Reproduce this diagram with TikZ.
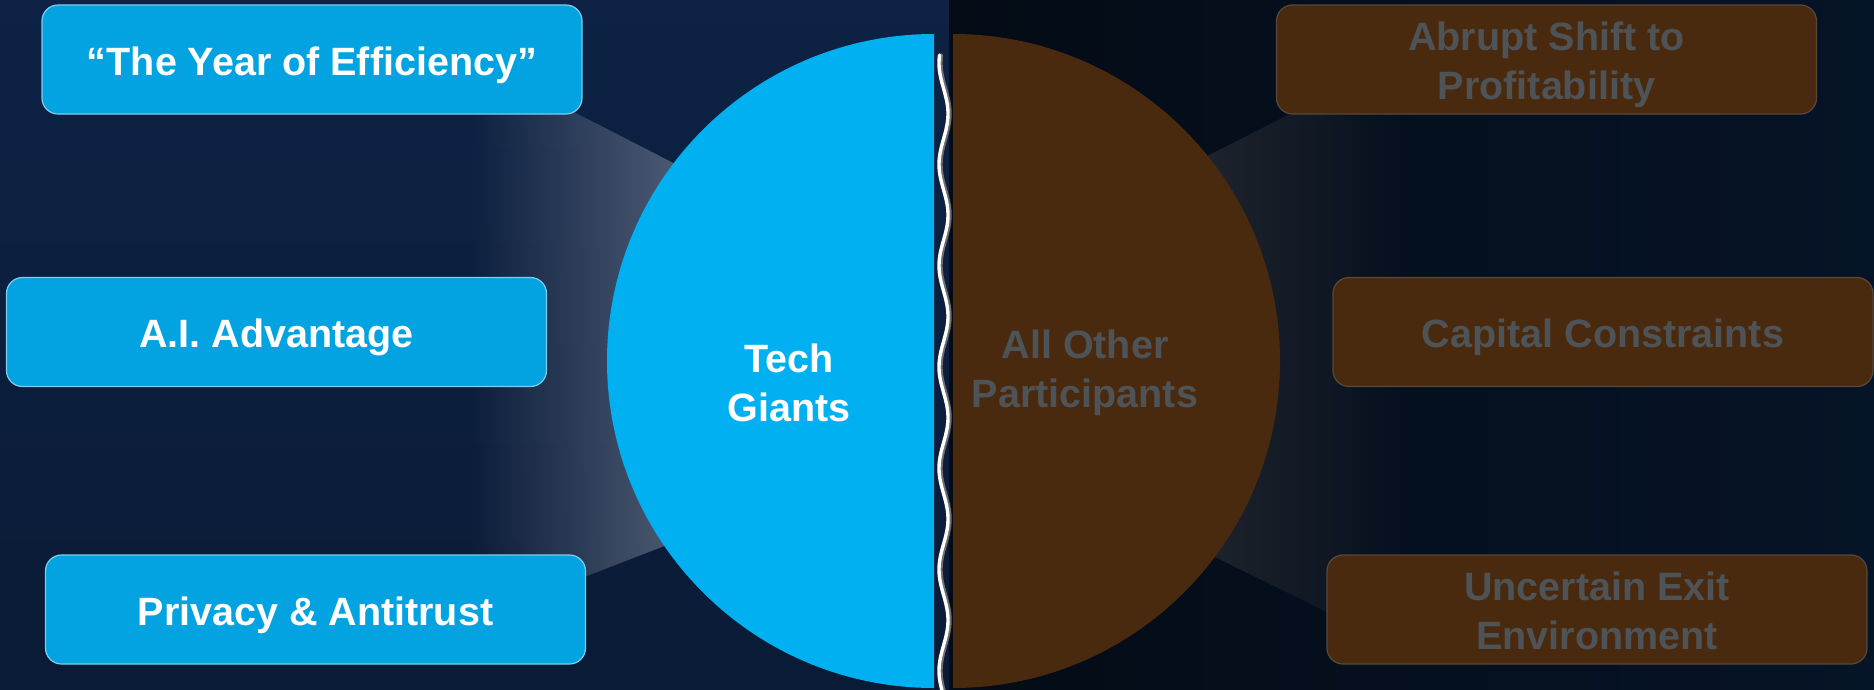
\documentclass[tikz,border=0pt]{standalone}
\usepackage{fontspec}
\setmainfont{Liberation Sans}
\usetikzlibrary{fadings}

\definecolor{bgtop}{HTML}{0D2244}
\definecolor{bgbot}{HTML}{0A1B36}
\definecolor{rbgleft}{HTML}{040B15}
\definecolor{rbgright}{HTML}{061427}
\definecolor{beamhi}{HTML}{6C778C}
\definecolor{rbeamhi}{HTML}{242A32}
\definecolor{cblue}{HTML}{00B0F0}
\definecolor{boxblue}{HTML}{02A3E0}
\definecolor{boxedge}{HTML}{7FCCEE}
\definecolor{brownfill}{HTML}{4A2A0E}
\definecolor{brownedge}{HTML}{56483B}
\definecolor{dimtext}{HTML}{4E5357}
\definecolor{wshadow}{HTML}{6E6E6E}

\begin{document}
\begin{tikzpicture}[x=1pt,y=-1pt,
  boxbase/.style={rounded corners=16pt, line width=1.2pt,
    minimum width=540pt, minimum height=109pt, inner sep=0pt, align=center,
    font=\bfseries\fontsize{39.5}{49}\selectfont},
  oneline/.style={text height=31pt, text depth=0pt},
  twoline/.style={text height=79pt, text depth=0pt},
  lbox/.style={boxbase, fill=boxblue, draw=boxedge, text=white},
  rbox/.style={boxbase, fill=brownfill, draw=brownedge, text=dimtext},
  ctext/.style={inner sep=0pt, align=center,
    font=\bfseries\fontsize{39.5}{49}\selectfont}]

\useasboundingbox (0,0) rectangle (1874,689);

% backgrounds of the two halves
\shade[top color=bgtop, bottom color=bgbot] (0,0) rectangle (949,689);
\shade[left color=rbgleft, right color=rbgright] (949,0) rectangle (1874,689);

% light beams from the circle towards the boxes
\fill[beamhi, path fading=west]
  (470,58) -- (780,217) -- (780,501) -- (470,621) -- cycle;
\fill[rbeamhi, path fading=east]
  (1150,185) -- (1410,53) -- (1410,653) -- (1150,525) -- cycle;

% the two halves of the circle
\begin{scope}
  \clip (0,0) rectangle (934,689);
  \fill[cblue] (934,361) circle[radius=327pt];
\end{scope}
\begin{scope}
  \clip (953,0) rectangle (1874,689);
  \fill[brownfill] (953,361) circle[radius=327pt];
\end{scope}

% wavy divider with its shadow (period about 101 px)
\begin{scope}
  \clip (0,0) rectangle (1874,689);
  \draw[wshadow, line width=3.4pt, line cap=round]
    plot[domain=55:692, samples=320, variable=\t]
      ({945.5+4.5*cos(3.5537*(\t-215))}, \t);
  \draw[white, line width=3.4pt, line cap=round]
    plot[domain=55:692, samples=320, variable=\t]
      ({943.5+4.5*cos(3.5537*(\t-215))}, \t);
\end{scope}

% circle labels
\node[ctext, text=white] (giants) at (789,383) {Tech\\Giants};
\node[ctext, text=dimtext] (others) at (1085,373) {All Other\\Participants};

% left boxes
\node[lbox, oneline] (eff)  at (312,59.5)    {“The Year of Efficiency”};
\node[lbox, oneline] (ai)   at (276.5,332)   {A.I. Advantage};
\node[lbox, oneline] (priv) at (315.5,609.5) {Privacy \& Antitrust};

% right boxes
\node[rbox, twoline] (abr) at (1546.5,59.5) {Abrupt Shift to\\Profitability};
\node[rbox, oneline] (cap) at (1603,332)    {Capital Constraints};
\node[rbox, twoline] (unc) at (1597,609.5)  {Uncertain Exit\\Environment};

\end{tikzpicture}
\end{document}
